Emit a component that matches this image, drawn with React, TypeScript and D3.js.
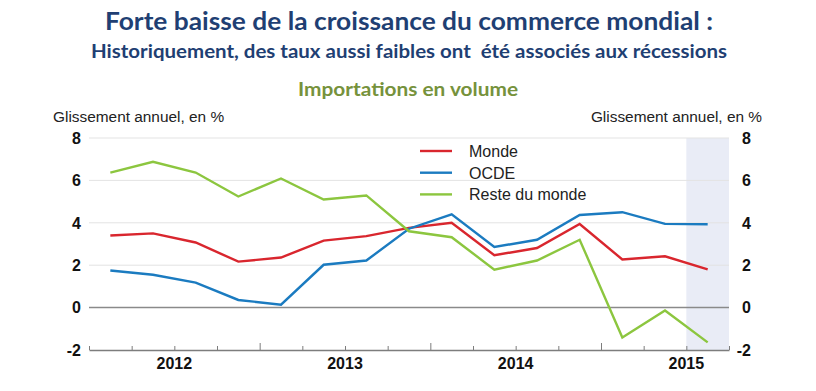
import React, { useEffect, useRef } from 'react';
import * as d3 from 'd3';

// Quarterly year-on-year growth, 2012 Q1 -> 2015 Q3
const quarters = [
  '2012T1', '2012T2', '2012T3', '2012T4',
  '2013T1', '2013T2', '2013T3', '2013T4',
  '2014T1', '2014T2', '2014T3', '2014T4',
  '2015T1', '2015T2', '2015T3',
];
const years = ['2012', '2013', '2014', '2015'];
const monde = [3.4, 3.5, 3.07, 2.17, 2.36, 3.16, 3.37, 3.76, 4.0, 2.47, 2.81, 3.94, 2.27, 2.42, 1.8];
const ocde = [1.75, 1.55, 1.18, 0.36, 0.14, 2.02, 2.22, 3.72, 4.4, 2.86, 3.2, 4.37, 4.5, 3.95, 3.93];
const reste = [6.37, 6.88, 6.37, 5.24, 6.09, 5.1, 5.29, 3.6, 3.32, 1.79, 2.22, 3.2, -1.41, -0.14, -1.64];
const yTicks = [-2, 0, 2, 4, 6, 8];

const series = [
  { name: 'Monde', values: monde, color: '#d9262e' },
  { name: 'OCDE', values: ocde, color: '#1b7bc0' },
  { name: 'Reste du monde', values: reste, color: '#8cc63f' },
];

const W = 816;
const H = 391;

export default function App() {
  const svgRef = useRef<SVGSVGElement>(null);

  useEffect(() => {
    if (!svgRef.current) return;
    const svg = d3.select(svgRef.current);
    svg.selectAll('*').remove();

    const left = 89;
    const right = 729;
    const top = 138;
    const bottom = 350;

    const x = d3.scaleLinear().domain([0, quarters.length]).range([left, right]);
    const y = d3.scaleLinear().domain([-2, 8]).range([bottom, top]);

    svg.append('rect').attr('width', W).attr('height', H).attr('fill', '#ffffff');

    // shaded last quarter
    svg.append('rect')
      .attr('x', x(quarters.length - 1))
      .attr('y', y(8))
      .attr('width', x(quarters.length) - x(quarters.length - 1))
      .attr('height', y(-2) - y(8))
      .attr('fill', '#e9ecf6');

    // gridlines
    svg.append('g')
      .selectAll('line')
      .data(yTicks.filter(d => d > 0))
      .enter()
      .append('line')
      .attr('x1', left)
      .attr('x2', right)
      .attr('y1', d => y(d))
      .attr('y2', d => y(d))
      .attr('stroke', '#e3e3e3')
      .attr('stroke-width', 1);

    svg.append('line')
      .attr('x1', left).attr('x2', right)
      .attr('y1', y(0)).attr('y2', y(0))
      .attr('stroke', '#8a8a8a')
      .attr('stroke-width', 1.5);

    // bottom axis with upward ticks
    const xAxis = d3.axisBottom(x)
      .tickValues(d3.range(0, quarters.length + 1))
      .tickSizeInner(0)
      .tickSizeOuter(0)
      .tickFormat(() => '');
    const axisG = svg.append('g')
      .attr('transform', `translate(0,${y(-2)})`)
      .call(xAxis);
    axisG.select('.domain').attr('stroke', '#7d7d7d').attr('stroke-width', 1.5);
    axisG.selectAll('.tick line')
      .attr('y2', (d: any) => (d % 4 === 0 && d > 0 && d < quarters.length ? -7 : -4))
      .attr('stroke', '#7d7d7d')
      .attr('stroke-width', 1);

    years.forEach((yr, i) => {
      svg.append('text')
        .attr('x', x(i * 4 + 2))
        .attr('y', 369)
        .attr('text-anchor', 'middle')
        .attr('font-family', 'Liberation Sans, Arial, sans-serif')
        .attr('font-weight', 'bold')
        .attr('font-size', 16)
        .attr('fill', '#111')
        .text(yr);
    });

    // y tick labels, both sides right aligned
    [81, 751].forEach(tx => {
      svg.append('g')
        .selectAll('text')
        .data(yTicks)
        .enter()
        .append('text')
        .attr('x', tx)
        .attr('y', d => y(d))
        .attr('dy', '0.36em')
        .attr('text-anchor', 'end')
        .attr('font-family', 'Liberation Sans, Arial, sans-serif')
        .attr('font-weight', 'bold')
        .attr('font-size', 16)
        .attr('fill', '#111')
        .text(d => String(d));
    });

    // unit labels
    [{ x: 53, anchor: 'start' }, { x: 762, anchor: 'end' }].forEach(u => {
      svg.append('text')
        .attr('x', u.x)
        .attr('y', 122)
        .attr('text-anchor', u.anchor)
        .attr('font-family', 'Liberation Sans, Arial, sans-serif')
        .attr('font-size', 15.4)
        .attr('fill', '#222')
        .text('Glissement annuel, en %');
    });

    // series
    const line = d3.line<number>()
      .x((_, i) => x(i + 0.5))
      .y(d => y(d));

    series.forEach(s => {
      svg.append('path')
        .datum(s.values)
        .attr('d', line)
        .attr('fill', 'none')
        .attr('stroke', s.color)
        .attr('stroke-width', 2.4)
        .attr('stroke-linejoin', 'miter');
    });

    // legend
    const legend = svg.append('g');
    series.forEach((s, i) => {
      const ly = 151 + i * 21.7;
      legend.append('line')
        .attr('x1', 420).attr('x2', 452)
        .attr('y1', ly).attr('y2', ly)
        .attr('stroke', s.color)
        .attr('stroke-width', 2.4);
      legend.append('text')
        .attr('x', 469)
        .attr('y', ly + 6)
        .attr('font-family', 'Liberation Sans, Arial, sans-serif')
        .attr('font-size', 16)
        .attr('fill', '#222')
        .text(s.name);
    });

    // titles
    const titleFont = 'Lato, "Open Sans", sans-serif';
    svg.append('text')
      .attr('x', 409).attr('y', 30)
      .attr('text-anchor', 'middle')
      .attr('font-family', titleFont)
      .attr('font-weight', 'bold')
      .attr('font-size', 25)
      .attr('fill', '#1f3f73')
      .attr('textLength', 608)
      .attr('lengthAdjust', 'spacingAndGlyphs')
      .text('Forte baisse de la croissance du commerce mondial :');

    svg.append('text')
      .attr('x', 409).attr('y', 57.5)
      .attr('text-anchor', 'middle')
      .attr('font-family', titleFont)
      .attr('font-weight', 'bold')
      .attr('font-size', 19)
      .attr('fill', '#1f3f73')
      .attr('textLength', 636)
      .attr('lengthAdjust', 'spacingAndGlyphs')
      .style('white-space', 'pre')
      .text('Historiquement, des taux aussi faibles ont  été associés aux récessions');

    svg.append('text')
      .attr('x', 408).attr('y', 96)
      .attr('text-anchor', 'middle')
      .attr('font-family', titleFont)
      .attr('font-weight', 'bold')
      .attr('font-size', 19)
      .attr('fill', '#76923c')
      .attr('textLength', 220)
      .attr('lengthAdjust', 'spacingAndGlyphs')
      .text('Importations en volume');
  }, []);

  return (
    <svg
      ref={svgRef}
      width={W}
      height={H}
      style={{ position: 'absolute', left: 0, top: 0, display: 'block' }}
    />
  );
}
